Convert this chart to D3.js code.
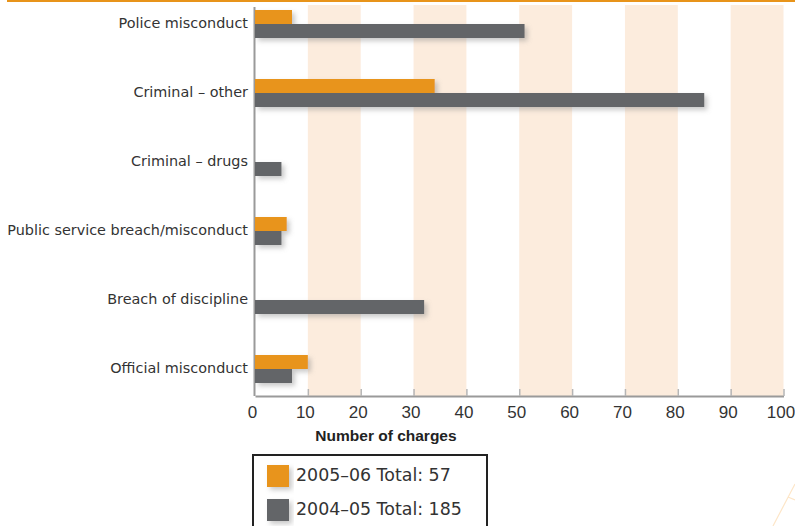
<!DOCTYPE html>
<html>
<head>
<meta charset="utf-8">
<script src="https://cdn.jsdelivr.net/npm/d3@7"></script>
<style>
  html, body { margin: 0; padding: 0; background: #fff; }
  svg { display: block; }
</style>
</head>
<body>
<svg id="chart" width="795" height="526"></svg>
<script>
// Charges laid, by category, for two reporting years
const categories = [
  "Police misconduct",
  "Criminal – other",
  "Criminal – drugs",
  "Public service breach/misconduct",
  "Breach of discipline",
  "Official misconduct"
];
const values2005 = [7, 34, 0, 6, 0, 10];
const values2004 = [51, 85, 5, 5, 32, 7];
const seriesNames = ["2005–06 Total: 57", "2004–05 Total: 185"];
const xTicks = [0, 10, 20, 30, 40, 50, 60, 70, 80, 90, 100];
const stripeRanges = [[10, 20], [30, 40], [50, 60], [70, 80], [90, 100]];

const ORANGE = "#e8941a";
const GREY = "#646567";
const STRIPE = "#fcecdd";
const SANS = "'Liberation Sans', Arial, sans-serif";
const WIDE = "'DejaVu Sans', Verdana, sans-serif";

const svg = d3.select("#chart");

const defs = svg.append("defs");
const shadow = defs.append("filter").attr("id", "barShadow")
  .attr("x", "-20%").attr("y", "-50%").attr("width", "140%").attr("height", "220%");
shadow.append("feDropShadow")
  .attr("dx", 3).attr("dy", 3).attr("stdDeviation", 2.5)
  .attr("flood-color", "#888").attr("flood-opacity", 0.45);

// top rule
svg.append("rect").attr("x", 7).attr("y", 0).attr("width", 788).attr("height", 2).attr("fill", ORANGE);

const plotTop = 5, plotBottom = 396;
const x = d3.scaleLinear().domain([0, 100]).range([255, 783.5]);
const y = d3.scaleBand().domain(categories).range([-10.5, 403.5]).paddingInner(0).paddingOuter(0);
const barH = 14;

// alternating background stripes
svg.append("g").selectAll("rect").data(stripeRanges).join("rect")
  .attr("x", d => x(d[0]))
  .attr("y", plotTop)
  .attr("width", d => x(d[1]) - x(d[0]))
  .attr("height", plotBottom - plotTop)
  .attr("fill", STRIPE);

// x axis with short inward ticks
const xAxis = svg.append("g")
  .attr("transform", `translate(0,${plotBottom})`)
  .call(d3.axisBottom(x).tickValues(xTicks).tickSize(0).tickPadding(10));
xAxis.select(".domain").attr("stroke", "#9a9a9a").attr("stroke-width", 2);
xAxis.selectAll(".tick text")
  .attr("dx", -3)
  .attr("font-family", SANS).attr("font-size", 17).attr("fill", "#333");
xAxis.selectAll(".tick").filter(d => d > 0).append("line")
  .attr("y1", 0).attr("y2", -7).attr("stroke", "#b5b5b5").attr("stroke-width", 1.5);

// y axis line
svg.append("line")
  .attr("x1", x(0) - 0.5).attr("x2", x(0) - 0.5)
  .attr("y1", 7).attr("y2", plotBottom)
  .attr("stroke", "#9a9a9a").attr("stroke-width", 2);

// category labels
svg.append("g").selectAll("text").data(categories).join("text")
  .attr("x", 248)
  .attr("y", d => y(d) + y.bandwidth() / 2)
  .attr("text-anchor", "end")
  .attr("dominant-baseline", "middle")
  .attr("font-family", WIDE).attr("font-size", 14.4).attr("fill", "#333")
  .text(d => d);

const barOffset = d => y(d) + y.bandwidth() / 2 - barH;

// bars
const bars = svg.append("g").attr("filter", "url(#barShadow)");
bars.selectAll("rect.s2004").data(categories).join("rect").attr("class", "s2004")
  .attr("x", x(0))
  .attr("y", d => barOffset(d) + barH)
  .attr("width", (d, i) => x(values2004[i]) - x(0))
  .attr("height", barH)
  .attr("fill", GREY);
bars.selectAll("rect.s2005").data(categories.filter((d, i) => values2005[i] > 0)).join("rect").attr("class", "s2005")
  .attr("x", x(0))
  .attr("y", d => barOffset(d))
  .attr("width", d => x(values2005[categories.indexOf(d)]) - x(0))
  .attr("height", barH)
  .attr("fill", ORANGE);

// axis title
svg.append("text")
  .attr("x", 386).attr("y", 441)
  .attr("text-anchor", "middle")
  .attr("font-family", SANS).attr("font-size", 15.5).attr("font-weight", "bold").attr("fill", "#222")
  .text("Number of charges");

// legend
const legend = svg.append("g");
legend.append("rect")
  .attr("x", 253).attr("y", 455).attr("width", 234).attr("height", 90)
  .attr("fill", "#fff").attr("stroke", "#222").attr("stroke-width", 2);
const legendColors = [ORANGE, GREY];
const items = legend.selectAll("g.item").data(seriesNames).join("g").attr("class", "item")
  .attr("transform", (d, i) => `translate(267,${465 + i * 34})`);
items.append("rect")
  .attr("width", 22).attr("height", 22)
  .attr("fill", (d, i) => legendColors[i])
  .attr("filter", "url(#barShadow)");
items.append("text")
  .attr("x", 29).attr("y", 11)
  .attr("dominant-baseline", "middle")
  .attr("font-family", WIDE).attr("font-size", 17.4).attr("fill", "#333")
  .text(d => d);

// faint corner ornament
svg.append("path")
  .attr("d", "M795,484 L773,526 M788,497 L795,500")
  .attr("fill", "none").attr("stroke", "#fde6c8").attr("stroke-width", 1.2);
</script>
</body>
</html>
